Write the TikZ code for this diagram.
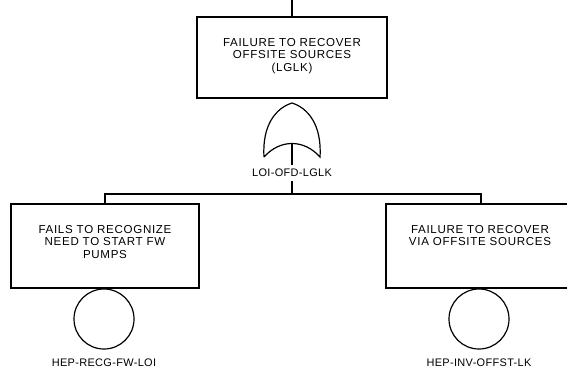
\documentclass[tikz,border=0pt]{standalone}
\usepackage{fontspec}
\setmainfont{Liberation Sans}
\newfontfamily\boxfont[LetterSpace=6]{Liberation Sans}
\newfontfamily\lblfont[LetterSpace=3]{Liberation Sans}
\begin{document}
\begin{tikzpicture}[x=1bp,y=-1bp, line width=1.2bp,
  boxtext/.style={font=\boxfont\fontsize{11.6}{12.6}\selectfont, align=center, anchor=north, inner sep=0pt},
  evbox/.style={draw, rectangle, minimum width=190bp, minimum height=83bp, inner sep=0pt},
  basic/.style={draw, circle, minimum size=60bp, inner sep=0pt},
  lbl/.style={font=\lblfont\fontsize{11}{12}\selectfont, inner xsep=1bp, inner ysep=4bp}]
\useasboundingbox (0,0) rectangle (567,377);
\clip (0,0) rectangle (567,377);

% top event
\coordinate (topend) at (292,0);
\node[evbox, minimum height=81bp] (tbox) at (292,57.5) {};
\node[boxtext] (ttxt) at (292,37.5) {FAILURE TO RECOVER\\OFFSITE SOURCES\\(LGLK)};
\draw (topend) -- (tbox.north);

% OR gate
\coordinate (gtop) at (292,103);
\coordinate (gl) at (264,157);
\coordinate (gr) at (320,157);
\coordinate (gin) at (292,143);
\draw (gl) .. controls (262,125) and (276,108) .. (gtop)
      .. controls (308,108) and (322,125) .. (gr)
      .. controls (304,139) and (280,139) .. (gl);
\node[lbl] (glabel) at (292,173) {LOI-OFD-LGLK};
\coordinate (bus) at (292,194);
\draw (gin) -- (glabel.north);
\draw (glabel.south) -- (bus);

% children
\node[evbox, minimum width=188bp, minimum height=84bp] (lbox) at (105,246) {};
\node[boxtext] (ltxt) at (105,224.5) {FAILS TO RECOGNIZE\\NEED TO START FW\\PUMPS};
\node[evbox, minimum height=84bp] (rbox) at (481,246) {};
\node[boxtext] (rtxt) at (480,224.5) {FAILURE TO RECOVER\\VIA OFFSITE SOURCES};
\draw (lbox.north) -- (lbox.north |- bus) -- (rbox.north |- bus) -- (rbox.north);

% basic events
\node[basic] (lcirc) at (104,319) {};
\node[lbl] (llabel) at (104,363) {HEP-RECG-FW-LOI};
\node[basic] (rcirc) at (479,319) {};
\node[lbl] (rlabel) at (479,363) {HEP-INV-OFFST-LK};
\end{tikzpicture}
\end{document}
